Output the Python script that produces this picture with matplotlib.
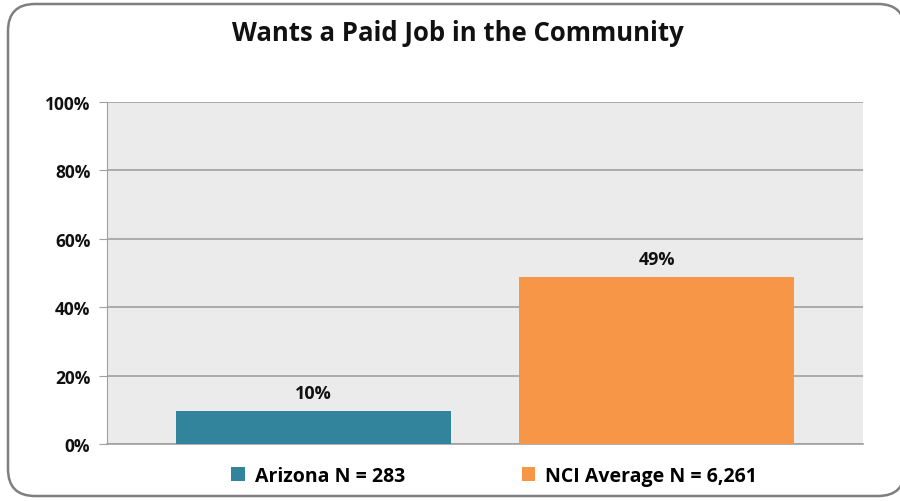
import matplotlib.pyplot as plt
from matplotlib.patches import FancyBboxPatch, Patch

# data
series = ["Arizona N = 283", "NCI Average N = 6,261"]
values = [9.6, 48.8]
labels = ["10%", "49%"]
colors = ["#31849b", "#f79646"]
yticks = [0, 20, 40, 60, 80, 100]

plt.rcParams['font.family'] = ['Open Sans', 'DejaVu Sans']

fig = plt.figure(figsize=(9, 5.02), dpi=100)
W, H = 900, 502

# rounded outer frame (right side runs past the image edge)
frame = FancyBboxPatch((8 / W, 5 / H), 897 / W, 492 / H,
                       boxstyle="round,pad=0,rounding_size=0.03",
                       transform=fig.transFigure, facecolor="white",
                       edgecolor="#7f7f7f", linewidth=1.8, mutation_aspect=W / H,
                       zorder=-10)
fig.patches.append(frame)

ax = fig.add_axes([107 / W, (H - 445) / H, 756 / W, 342 / H])
ax.set_facecolor("#ebebeb")

x = list(range(len(values)))
bars = ax.bar(x, values, width=0.8, color=colors, zorder=3)
for xi, v, lab in zip(x, values, labels):
    ax.text(xi, v + 2.6, lab, ha="center", va="bottom", fontsize=13,
            fontweight="bold", color="#111111")

ax.set_xlim(-0.6, 1.6)
ax.set_ylim(0, 100)
ax.set_yticks(yticks)
ax.set_yticklabels([f"{t}%" for t in yticks], fontsize=12.5, fontweight="bold",
                   color="#111111")
ax.set_xticks([])
ax.yaxis.grid(True, color="#a0a0a0", linewidth=1.2, zorder=0)
ax.set_axisbelow(True)
ax.tick_params(axis="y", length=6, color="#a0a0a0", pad=6)
for s in ["top", "right"]:
    ax.spines[s].set_visible(False)
ax.spines["left"].set_color("#a0a0a0")
ax.spines["bottom"].set_color("#a0a0a0")
ax.spines["bottom"].set_linewidth(1.2)

fig.text(458 / W, 1 - 34 / H, "Wants a Paid Job in the Community", ha="center",
         va="center", fontsize=18.5, fontweight="bold", color="#111111")

handles = [Patch(facecolor=c, label=s) for c, s in zip(colors, series)]
fig.legend(handles=handles, loc="center", bbox_to_anchor=(494 / W, 1 - 477 / H),
           ncol=2, frameon=False, prop={"size": 14, "weight": "bold"},
           handlelength=0.7, handleheight=0.7, handletextpad=0.5,
           columnspacing=6.0)

fig.savefig("out.png", dpi=100)
